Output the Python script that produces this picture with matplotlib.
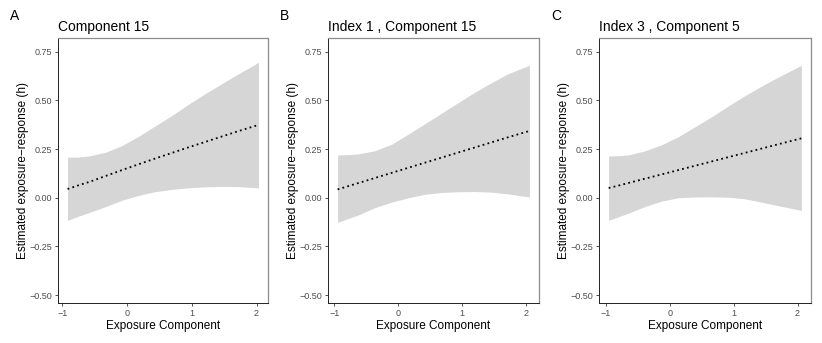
import numpy as np
import matplotlib
matplotlib.use("Agg")
import matplotlib.pyplot as plt

plt.rcParams['font.family'] = ['Liberation Sans', 'DejaVu Sans']

# panel A: Component 15
xA = [-0.92, -0.75, -0.58, -0.33, -0.08, 0.17, 0.43, 0.69, 0.94, 1.20, 1.46, 1.72, 2.03]
upA = [0.208, 0.209, 0.215, 0.234, 0.268, 0.314, 0.368, 0.422, 0.478, 0.533, 0.585, 0.636, 0.695]
loA = [-0.116, -0.094, -0.075, -0.045, -0.013, 0.012, 0.031, 0.043, 0.051, 0.056, 0.058, 0.057, 0.051]
estA = [0.045, 0.064, 0.082, 0.112, 0.142, 0.171, 0.201, 0.230, 0.258, 0.286, 0.314, 0.342, 0.374]

# panel B: Index 1 , Component 15
xB = [-0.95, -0.79, -0.63, -0.37, -0.10, 0.16, 0.42, 0.68, 0.94, 1.20, 1.46, 1.72, 2.06]
upB = [0.220, 0.221, 0.225, 0.241, 0.275, 0.327, 0.380, 0.434, 0.488, 0.541, 0.590, 0.636, 0.680]
loB = [-0.126, -0.107, -0.089, -0.051, -0.022, 0.000, 0.018, 0.027, 0.031, 0.032, 0.029, 0.020, 0.004]
estB = [0.043, 0.059, 0.075, 0.101, 0.128, 0.154, 0.180, 0.206, 0.232, 0.258, 0.284, 0.310, 0.343]

# panel C: Index 3 , Component 5
xC = [-0.96, -0.80, -0.65, -0.39, -0.13, 0.13, 0.39, 0.65, 0.91, 1.17, 1.43, 1.69, 2.06]
upC = [0.215, 0.216, 0.220, 0.241, 0.272, 0.313, 0.364, 0.415, 0.470, 0.523, 0.572, 0.618, 0.680]
loC = [-0.116, -0.097, -0.079, -0.045, -0.017, 0.000, 0.004, 0.005, 0.003, -0.005, -0.022, -0.040, -0.065]
estC = [0.050, 0.063, 0.076, 0.098, 0.120, 0.142, 0.164, 0.186, 0.208, 0.230, 0.252, 0.274, 0.305]

titles = ["Component 15", "Index 1 , Component 15", "Index 3 , Component 5"]
letters = ["A", "B", "C"]
xticks = [-1, 0, 1, 2]
yticks = [-0.5, -0.25, 0, 0.25, 0.5, 0.75]

fig = plt.figure(figsize=(8.22, 3.43), dpi=100)
lefts = [58, 328, 599]
widths = [210, 211, 212]
panels = [(xA, upA, loA, estA), (xB, upB, loB, estB), (xC, upC, loC, estC)]

for i, (x, up, lo, est) in enumerate(panels):
    ax = fig.add_axes([lefts[i] / 822, 1 - 303 / 343, widths[i] / 822, 265 / 343])
    ax.fill_between(x, lo, up, color='#d6d6d6', linewidth=0)
    ax.plot(x, est, color='black', linestyle=(0, (1, 1.8)), linewidth=1.3)
    r = max(x) - min(x)
    ax.set_xlim(min(x) - 0.05 * r, max(x) + 0.05 * r)
    ax.set_ylim(-0.54, 0.82)
    ax.set_xticks(xticks)
    ax.set_xticklabels([str(t).replace('-', '\u2212') for t in xticks])
    ax.set_yticks(yticks)
    ax.set_yticklabels([f"{t:.2f}".replace('-', '\u2212') for t in yticks])
    ax.tick_params(labelsize=6.5, labelcolor='#4d4d4d', color='#333333',
                   length=2.5, width=0.6, pad=1.5)
    for s in ['left', 'bottom']:
        ax.spines[s].set_color('#222222')
        ax.spines[s].set_linewidth(0.7)
    for s in ['top', 'right']:
        ax.spines[s].set_color('#8c8c8c')
        ax.spines[s].set_linewidth(0.9)
    ax.set_xlabel("Exposure Component", fontsize=8.5, labelpad=2)
    ax.set_ylabel("Estimated exposure\u2212response (h)", fontsize=8.5, labelpad=0.5)
    ax.set_title(titles[i], fontsize=10, loc='left', pad=5)
    fig.text((lefts[i] - 48) / 822, 1 - 16 / 343, letters[i], fontsize=10,
             va='center', ha='left')

fig.savefig("out.png", dpi=100)
